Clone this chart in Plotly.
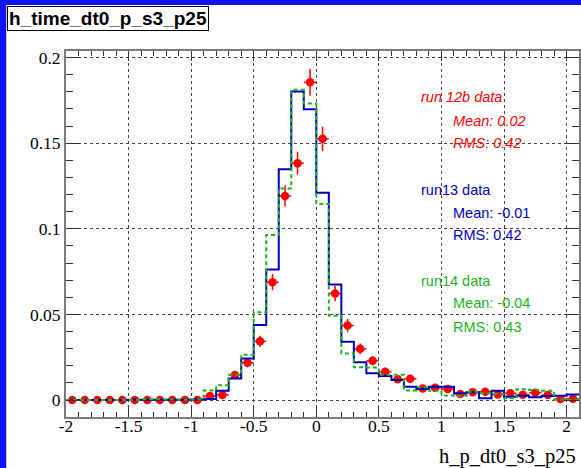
import plotly.graph_objects as go

# ---------------- data ----------------
bin_edges = [round(-2.0 + 0.1 * k, 2) for k in range(42)]   # 41 bins, -2 .. 2.1
bin_centers = [round(-1.95 + 0.1 * k, 2) for k in range(41)]

run12b = [0.0, 0.0, 0.0, 0.0, 0.0, 0.0, 0.0, 0.0, 0.0, 0.0,
          0.0, 0.0023, 0.0030, 0.0146, 0.0218, 0.0343, 0.0688, 0.1192, 0.1383, 0.1855,
          0.1525, 0.0622, 0.0435, 0.0299, 0.0229, 0.0165, 0.0121, 0.0124, 0.0068, 0.0072,
          0.0064, 0.0035, 0.0045, 0.0048, 0.0033, 0.0039, 0.0031, 0.0043, 0.0029, 0.0006,
          0.0008]
run12b_err = [0.0, 0.0, 0.0, 0.0, 0.0, 0.0, 0.0, 0.0, 0.0, 0.0,
              0.0, 0.0009, 0.0010, 0.0022, 0.0027, 0.0033, 0.0047, 0.0062, 0.0067, 0.0078,
              0.0071, 0.0045, 0.0038, 0.0031, 0.0027, 0.0023, 0.0020, 0.0020, 0.0015, 0.0015,
              0.0014, 0.0011, 0.0012, 0.0012, 0.0010, 0.0011, 0.0010, 0.0012, 0.0010, 0.0004,
              0.0005]
run13 = [0.0, 0.0, 0.0, 0.0, 0.0, 0.0002, 0.0002, 0.0002, 0.0002, 0.0002,
         0.0003, 0.0006, 0.0054, 0.0126, 0.0243, 0.0438, 0.0762, 0.1348, 0.1802, 0.1698,
         0.1210, 0.0675, 0.0340, 0.0220, 0.0156, 0.0141, 0.0117, 0.0078, 0.0064, 0.0078,
         0.0078, 0.0039, 0.0045, 0.0010, 0.0054, 0.0019, 0.0025, 0.0016, 0.0023, 0.0025,
         0.0033]
run14 = [0.0, 0.0, 0.0, 0.0, 0.0, 0.0, 0.0005, 0.0005, 0.0003, 0.0002,
         0.0003, 0.0055, 0.0087, 0.0148, 0.0265, 0.0512, 0.0963, 0.1235, 0.1812, 0.1732,
         0.1144, 0.0492, 0.0272, 0.0191, 0.0190, 0.0148, 0.0148, 0.0056, 0.0074, 0.0054,
         0.0027, 0.0025, 0.0048, 0.0039, 0.0035, 0.0010, 0.0063, 0.0058, 0.0054, 0.0003,
         0.0003]

x_tickvals = [-2, -1.5, -1, -0.5, 0, 0.5, 1, 1.5, 2]
x_ticktext = ["-2", "-1.5", "-1", "-0.5", "0", "0.5", "1", "1.5", "2"]
y_tickvals = [0, 0.05, 0.1, 0.15, 0.2]
y_ticktext = ["0", "0.05", "0.1", "0.15", "0.2"]

title_text = "h_time_dt0_p_s3_p25"
xaxis_title = "h_p_dt0_s3_p25"
stats = [
    ("run 12b data", "Mean: 0.02", "RMS: 0.42"),
    ("run13 data", "Mean: -0.01", "RMS: 0.42"),
    ("run14 data", "Mean: -0.04", "RMS: 0.43"),
]

# ---------------- styling ----------------
W, H = 581, 468
L, R, T, B = 66, 0, 51, 51
PW, PH = W - L - R, H - T - B

RED = "#ff0000"
BLUE = "#0000c0"
GREEN = "#1cb41c"
CANVAS_BLUE = "#1212f2"
SERIF = "Liberation Serif, Times New Roman, serif"
SANS = "Liberation Sans, Arial, sans-serif"


def px_x(p):
    return (p - L) / PW


def px_y(p):
    return (H - B - p) / PH


fig = go.Figure()

fig.add_trace(go.Scatter(
    x=bin_centers, y=run12b, mode="markers",
    marker=dict(color=RED, size=8.5, symbol="circle"),
    error_y=dict(type="data", array=run12b_err, color=RED, thickness=1.5, width=0),
    error_x=dict(type="constant", value=0.05, color=RED, thickness=1.5, width=0),
    showlegend=False,
))
fig.add_trace(go.Scatter(
    x=bin_edges, y=run13 + [run13[-1]], mode="lines",
    line=dict(color=BLUE, width=2, shape="hv"), showlegend=False,
))
fig.add_trace(go.Scatter(
    x=bin_edges, y=run14 + [run14[-1]], mode="lines",
    line=dict(color=GREEN, width=2, shape="hv", dash="4px,3px"), showlegend=False,
))

annotations = []
# title box
annotations.append(dict(
    text="<b>" + title_text + "</b>", xref="paper", yref="paper",
    x=px_x(7), y=px_y(6), xanchor="left", yanchor="top", showarrow=False,
    font=dict(family=SANS, size=19, color="black"),
    bgcolor="white", bordercolor="black", borderwidth=1, borderpad=1,
))
# x axis title
annotations.append(dict(
    text=xaxis_title, xref="paper", yref="paper",
    x=px_x(580), y=px_y(456), xanchor="right", yanchor="middle", showarrow=False,
    font=dict(family=SERIF, size=20.5, color="black"),
))
# stats text
colors = [RED, BLUE, GREEN]
row_y = [(97, 120.7, 142.7), (190, 212.7, 235), (281, 303, 326.7)]
for (name, mean, rms), col, ys in zip(stats, colors, row_y):
    italic = col == RED
    for txt, xx, yy in ((name, 420.5, ys[0]), (mean, 453, ys[1]), (rms, 453, ys[2])):
        t = "<i>" + txt + "</i>" if italic else txt
        annotations.append(dict(
            text=t, xref="paper", yref="paper", x=px_x(xx), y=px_y(yy),
            xanchor="left", yanchor="middle", showarrow=False,
            font=dict(family=SANS, size=14.5, color=col),
        ))

axis_common = dict(
    showline=True, linecolor="#7a7a7a", linewidth=2, mirror="allticks",
    ticks="inside", tickcolor="#333333", tickwidth=1,
    showgrid=True, gridcolor="#444444", gridwidth=1, griddash="dot",
    zeroline=False,
    tickfont=dict(family=SERIF, size=17.5, color="black"),
)

fig.update_layout(
    width=W, height=H, autosize=False,
    font=dict(family=SERIF),
    margin=dict(l=L, r=R, t=T, b=B, pad=0),
    paper_bgcolor=CANVAS_BLUE, plot_bgcolor="white",
    shapes=[dict(type="rect", xref="paper", yref="paper",
                 x0=px_x(6), x1=px_x(W + 5), y0=px_y(H + 5), y1=px_y(5),
                 fillcolor="white", line=dict(width=0), layer="below")],
    annotations=annotations,
    xaxis=dict(range=[-2, 2.099], tickvals=x_tickvals, ticktext=x_ticktext,
               ticklen=10, ticklabelstandoff=-8,
               minor=dict(dtick=0.1, tick0=-2, ticks="inside", ticklen=5,
                          tickcolor="#333333", showgrid=False),
               **axis_common),
    yaxis=dict(range=[-0.0099, 0.2038], tickvals=y_tickvals, ticktext=y_ticktext,
               ticklen=15,
               minor=dict(dtick=0.01, tick0=0, ticks="inside", ticklen=7,
                          tickcolor="#333333", showgrid=False),
               **axis_common),
)

fig.write_html("out.html")
